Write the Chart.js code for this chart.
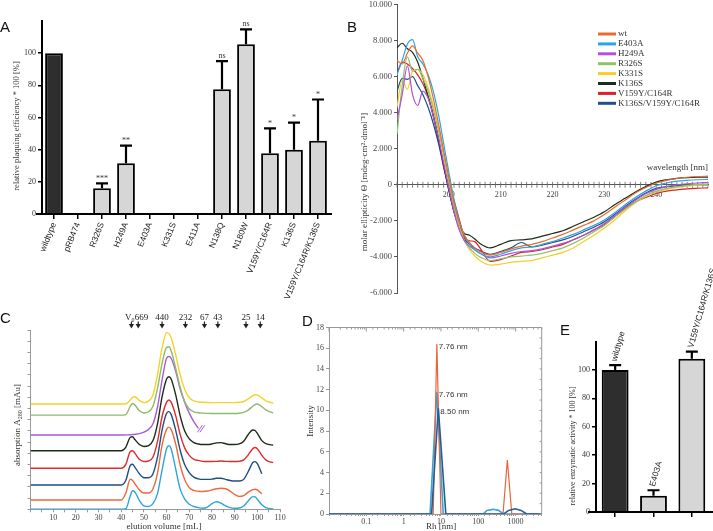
<!DOCTYPE html>
<html>
<head>
<meta charset="utf-8">
<title>Figure</title>
<script src="https://cdn.jsdelivr.net/npm/chart.js@4.4.1/dist/chart.umd.min.js"></script>
<style>
  body { margin: 0; background: #fff; }
  #figure { position: relative; width: 713px; height: 531px; overflow: hidden; background: #fff; }
  #figure canvas { position: absolute; }
  .panel-tag { position: absolute; font: 15px/15px "Liberation Sans", Arial, sans-serif; color: #111; }
</style>
</head>
<body>
<div id="figure">
  <canvas id="chart-a" width="345" height="306" style="left:0px;top:0px"></canvas>
  <canvas id="chart-b" width="358" height="300" style="left:355px;top:0px"></canvas>
  <canvas id="chart-c" width="300" height="231" style="left:0px;top:300px"></canvas>
  <canvas id="chart-d" width="265" height="221" style="left:295px;top:310px"></canvas>
  <canvas id="chart-e" width="158" height="276" style="left:555px;top:255px"></canvas>
  <div class="panel-tag" style="left:0px;top:19px">A</div>
  <div class="panel-tag" style="left:347px;top:19px">B</div>
  <div class="panel-tag" style="left:0px;top:310px">C</div>
  <div class="panel-tag" style="left:302px;top:313px">D</div>
  <div class="panel-tag" style="left:560px;top:322px">E</div>
</div>
<script>
const SERIF = '"Liberation Serif", "Times New Roman", serif';
const SANS = '"Liberation Sans", Arial, sans-serif';

// Panel A - relative plaquing efficiency
const plaqueLabels = ['wildtype', 'pRB474', 'R326S', 'H249A', 'E403A', 'K331S', 'E411A', 'N138Q', 'N180W', 'V159Y/C164R', 'K136S', 'V159Y/C164R/K136S'];
const plaqueValues = [100, 0, 16, 31.5, 0, 0, 0, 77.5, 105.5, 37.7, 40, 45.5];
const plaqueErrors = [0, 0, 3, 11, 0, 0, 0, 17.6, 9.3, 15.5, 16.8, 25.7];
const plaqueSignif = ['', '', '***', '**', '', '', '', 'ns', 'ns', '*', '*', '*'];

// Panel B - CD spectra
const cdWavelength = [190, 191, 192, 193, 194, 195, 196, 197, 198, 199, 200, 201, 202, 203, 204, 205, 206,
  208, 210, 212, 214, 216, 218, 220, 222, 224, 226, 228, 230, 232, 234, 236, 238, 240, 242, 244, 246, 248, 250];
const cdWt = [6900, 6700, 7300, 7700, 7300, 6900, 6000, 4800, 3400, 1900, 400, -1000, -2100, -2800, -3200, -3500, -3700,
  -3900, -3750, -3550, -3400, -3300, -3150, -2950, -2750, -2500, -2250, -2000, -1650, -1250, -850, -450, -150, 100, 250, 350, 420, 460, 480];
const cdE403A = [6100, 6900, 7800, 8050, 7100, 6700, 6100, 5200, 3900, 2300, 700, -800, -2000, -2800, -3300, -3600, -3800,
  -4000, -3850, -3650, -3500, -3450, -3300, -3150, -2950, -2750, -2500, -2250, -1950, -1550, -1100, -700, -350, -50, 100, 200, 250, 280, 300];
const cdH249A = [3600, 5000, 6600, 5000, 4400, 5200, 4800, 3800, 2600, 1200, -200, -1500, -2500, -3100, -3400, -3600, -3800,
  -4050, -3950, -3800, -3700, -3650, -3550, -3400, -3250, -3050, -2800, -2500, -2150, -1700, -1250, -850, -500, -250, -100, 0, 60, 100, 140];
const cdR326S = [2800, 5500, 7100, 6300, 6400, 5900, 5200, 4200, 3000, 1600, 100, -1300, -2400, -3100, -3500, -3800, -4000,
  -4200, -4100, -4000, -3950, -3900, -3800, -3650, -3500, -3250, -2950, -2600, -2250, -1800, -1350, -950, -600, -350, -200, -100, -30, 20, 50];
const cdK331S = [4300, 5800, 5300, 6300, 6400, 6100, 5400, 4400, 3200, 1800, 300, -1100, -2300, -3100, -3600, -3950, -4200,
  -4450, -4400, -4300, -4250, -4200, -4050, -3900, -3750, -3500, -3150, -2800, -2400, -1950, -1450, -1000, -650, -400, -250, -150, -70, -20, 0];
const cdK136S = [7600, 7850, 7550, 7350, 6800, 5900, 4900, 3800, 2500, 1100, -300, -1500, -2300, -2700, -2800, -3000, -3250,
  -3500, -3300, -3100, -3050, -3000, -2850, -2700, -2550, -2300, -2050, -1800, -1500, -1100, -750, -400, -100, 150, 280, 360, 400, 420, 430];
const cdV159Y = [6200, 6800, 6700, 6450, 6100, 5600, 4900, 3900, 2600, 1000, -100, -900, -1900, -2900, -3100, -3150, -3500,
  -4250, -4150, -3950, -3750, -3700, -3600, -3450, -3300, -3050, -2800, -2500, -2200, -1750, -1300, -950, -700, -480, -350, -280, -220, -190, -170];
const cdTriple = [5200, 5900, 5850, 6000, 5500, 5000, 4300, 3400, 2300, 1000, -300, -1500, -2400, -3000, -3300, -3500, -3650,
  -3850, -3700, -3500, -3200, -3450, -3350, -3200, -3050, -2850, -2600, -2350, -2050, -1650, -1200, -800, -450, -200, -100, -50, -20, 0, 0];
const cdNames = ['wt', 'E403A', 'H249A', 'R326S', 'K331S', 'K136S', 'V159Y/C164R', 'K136S/V159Y/C164R'];
const cdValues = [cdWt, cdE403A, cdH249A, cdR326S, cdK331S, cdK136S, cdV159Y, cdTriple];
const cdColors = ['#ec6a2c', '#2aa7e1', '#b450e0', '#8dc46a', '#f2d02a', '#1c2d17', '#dc2128', '#1c4f8c'];

// Panel C - size exclusion chromatograms (signal above each trace's baseline)
const elutionVolume = [0, 40, 42, 44, 45, 46, 48, 50, 52, 54, 56, 58, 60, 61, 62, 64, 66, 68, 70, 72,
  74, 76, 78, 80, 82, 84, 86, 88, 90, 92, 94, 96, 98, 99, 100, 102, 104, 107];
const secK331S = [0, 0, 0.02, 0.35, 0.6, 0.65, 0.3, 0.12, 0.25, 0.8, 2.6, 5.0, 6.37, 6.3, 5.9, 4.4, 2.6, 1.3, 0.55, 0.28,
  0.18, 0.15, 0.13, 0.12, 0.12, 0.12, 0.12, 0.12, 0.12, 0.15, 0.22, 0.45, 0.75, 0.82, 0.8, 0.55, 0.25, 0.08];
const secR326S = [0, 0, 0.05, 0.8, 1.04, 0.9, 0.4, 0.2, 0.3, 0.8, 2.4, 4.6, 6.05, 6.1, 5.75, 4.2, 2.5, 1.2, 0.55, 0.3,
  0.22, 0.18, 0.16, 0.15, 0.15, 0.15, 0.15, 0.15, 0.15, 0.17, 0.25, 0.45, 0.8, 0.95, 1.0, 0.75, 0.45, 0.2];
const secH249A = [0, 0, 0.01, 0.02, 0.04, 0.06, 0.12, 0.25, 0.5, 1.0, 2.5, 4.9, 6.85, 7.0, 6.85, 5.7, 4.1, 2.9, 1.95, 1.2,
  0.6, null, null, null, null, null, null, null, null, null, null, null, null, null, null, null, null, null];
const secK136S = [0, 0, 0.3, 1.2, 1.25, 1.0, 0.55, 0.38, 0.45, 0.9, 2.4, 4.8, 6.4, 6.6, 6.4, 5.0, 3.1, 1.75, 1.05, 0.72,
  0.6, 0.55, 0.55, 0.6, 0.7, 0.72, 0.62, 0.55, 0.55, 0.6, 0.85, 1.45, 1.85, 1.8, 1.55, 0.9, 0.6, 0.5];
const secV159Y = [0, 0, 0.35, 1.5, 1.57, 1.35, 0.8, 0.6, 0.65, 1.0, 2.4, 4.6, 5.9, 6.1, 5.9, 4.7, 3.0, 1.8, 1.15, 0.8,
  0.7, 0.62, 0.6, 0.6, 0.62, 0.65, 0.62, 0.6, 0.6, 0.62, 0.75, 1.2, 1.75, 1.85, 1.75, 1.15, 0.7, 0.5];
const secTriple = [0, 0, 0.4, 1.75, 1.85, 1.6, 1.0, 0.65, 0.65, 1.0, 2.5, 4.9, 6.4, 6.55, 6.3, 4.9, 3.1, 1.8, 1.1, 0.7,
  0.55, 0.5, 0.5, 0.52, 0.6, 0.6, 0.5, 0.4, 0.35, 0.35, 0.5, 1.2, 2.0, 2.08, 1.9, 1.0, null, null];
const secWt = [0, 0, 0.6, 1.85, 1.75, 1.45, 0.9, 0.62, 0.62, 1.0, 2.4, 4.9, 6.3, 6.5, 6.3, 5.0, 3.1, 1.8, 1.1, 0.85,
  0.78, 0.76, 0.8, 0.9, 1.0, 1.05, 1.0, 0.8, 0.5, 0.32, 0.4, 0.7, 0.93, 0.96, 0.9, 0.54, null, null];
const secE403A = [0, 0, 0.05, 1.2, 1.66, 1.55, 0.8, 0.3, 0.25, 0.5, 1.4, 3.5, 5.4, 5.68, 5.4, 3.6, 1.8, 0.9, 0.45, 0.25,
  0.15, 0.1, 0.2, 0.5, 0.68, 0.55, 0.3, 0.15, 0.1, 0.12, 0.3, 0.75, 1.13, 1.1, 0.9, 0.4, 0.12, 0.03];
const secTraces = [secK331S, secR326S, secH249A, secK136S, secV159Y, secTriple, secWt, secE403A];
const secOffsets = [9.4, 8.4, 6.63, 5.23, 3.66, 2.17, 0.83, 0];
const secColors = ['#f4d22b', '#8fba6e', '#a65bd6', '#1e2b1a', '#e02a2e', '#1e4f7e', '#ec6a3c', '#2ca5de'];
const markerLabels = ['V0', '669', '440', '232', '67', '43', '25', '14'];
const markerVolumes = [44.5, 47.5, 58, 68.3, 76.7, 82.6, 95, 101.3];

// Panel D - DLS size distribution
const dlsWtRh = [0.01, 6.2, 7.76, 10, 460, 600, 790, 5000];
const dlsWtIntensity = [0, 0, 16.4, 0, 0, 5.2, 0, 0];
const dlsE403ARh = [0.01, 5.1, 7.76, 11.5, 135, 170, 250, 350, 470, 5000];
const dlsE403AIntensity = [0, 0, 11.8, 0, 0, 0.35, 0.45, 0.35, 0, 0];
const dlsTripleRh = [0.01, 5.6, 8.5, 13.5, 480, 650, 970, 1400, 1980, 5000];
const dlsTripleIntensity = [0, 0, 10.2, 0, 0, 0.35, 0.5, 0.35, 0, 0];
const dlsColors = ['#e8653b', '#3ba3d8', '#1f5f96'];
const dlsDrawOrder = [2, 3, 1];

// Panel E - relative enzymatic activity
const enzLabels = ['wildtype', 'E403A', 'V159Y/C164R/K136S'];
const enzValues = [100, 11.4, 108];
const enzErrors = [3.5, 3.9, 5];

function fixWidth(w) {
  return scale => { scale.width = w; scale.paddingTop = 0; scale.paddingBottom = 0; };
}
function fixHeight(h) {
  return scale => { scale.height = h; scale.paddingLeft = 0; scale.paddingRight = 0; };
}
function rotatedText(ctx, text, x, y, font, color) {
  ctx.save();
  ctx.translate(x, y);
  ctx.rotate(-Math.PI / 2);
  ctx.font = font;
  ctx.fillStyle = color;
  ctx.textAlign = 'center';
  ctx.textBaseline = 'middle';
  ctx.fillText(text, 0, 0);
  ctx.restore();
}
function isDecade(v) {
  const l = Math.log10(v);
  return Math.abs(l - Math.round(l)) < 1e-6;
}
function dotThousands(v) {
  const s = String(Math.abs(v)).replace(/\B(?=(\d{3})+(?!\d))/g, '.');
  return (v < 0 ? '-' : '') + s;
}

// error bars (+ optional significance marks) for the bar panels
function errorBars(values, errors, marks) {
  return {
    id: 'errorBars',
    afterDatasetsDraw(chart) {
      const ctx = chart.ctx;
      const y = chart.scales.y;
      ctx.save();
      ctx.strokeStyle = '#000';
      ctx.lineWidth = 2.2;
      chart.getDatasetMeta(0).data.forEach((bar, i) => {
        if (!errors[i]) return;
        const yBar = y.getPixelForValue(values[i]);
        const yTop = y.getPixelForValue(values[i] + errors[i]);
        ctx.beginPath();
        ctx.moveTo(bar.x, yBar);
        ctx.lineTo(bar.x, yTop);
        ctx.moveTo(bar.x - 6, yTop);
        ctx.lineTo(bar.x + 6, yTop);
        ctx.stroke();
        if (marks && marks[i]) {
          ctx.fillStyle = '#333';
          ctx.font = '8px ' + SERIF;
          ctx.textAlign = 'center';
          ctx.textBaseline = 'bottom';
          ctx.fillText(marks[i], bar.x, yTop - 1);
        }
      });
      ctx.restore();
    }
  };
}
function baseLine(extendLeft) {
  return {
    id: 'baseLine',
    afterDatasetsDraw(chart) {
      const { ctx, chartArea: a } = chart;
      ctx.save();
      ctx.strokeStyle = '#000';
      ctx.lineWidth = 2;
      ctx.beginPath();
      ctx.moveTo(a.left - extendLeft, a.bottom);
      ctx.lineTo(a.right + 2, a.bottom);
      ctx.stroke();
      ctx.restore();
    }
  };
}

const noChrome = { legend: { display: false }, tooltip: { enabled: false } };

// ---------- A ----------
new Chart(document.getElementById('chart-a'), {
  type: 'bar',
  data: {
    labels: plaqueLabels,
    datasets: [{
      data: plaqueValues,
      backgroundColor: plaqueLabels.map((_, i) => i === 0 ? '#2e2e2e' : '#d6d6d6'),
      borderColor: '#000',
      borderWidth: 2,
      barPercentage: 0.74,
      categoryPercentage: 1
    }]
  },
  options: {
    responsive: false,
    animation: false,
    layout: { autoPadding: false, padding: { left: 0, top: 21, right: 15, bottom: 0 } },
    plugins: noChrome,
    scales: {
      x: {
        grid: { drawOnChartArea: false, offset: false, tickLength: 5, color: '#000', lineWidth: 1.5 },
        border: { display: false },
        ticks: { autoSkip: false, minRotation: 68, maxRotation: 68, padding: 2, color: '#222', font: { family: SANS, size: 8.5 } },
        afterFit: fixHeight(92)
      },
      y: {
        min: 0,
        max: 120,
        afterBuildTicks: s => { s.ticks = s.ticks.filter(t => t.value <= 100); },
        ticks: { stepSize: 20, padding: 2, color: '#333', font: { family: SERIF, size: 8 } },
        grid: { drawOnChartArea: false, tickLength: 4, color: '#000', lineWidth: 1.5 },
        border: { color: '#000', width: 2 },
        afterFit: fixWidth(42)
      }
    }
  },
  plugins: [
    errorBars(plaqueValues, plaqueErrors, plaqueSignif),
    baseLine(6),
    { id: 'titleA', afterDraw(c) { rotatedText(c.ctx, 'relative plaquing efficiency * 100 [%]', 17, 126, '8.5px ' + SERIF, '#333'); } }
  ]
});

// ---------- B ----------
const cdDecor = {
  id: 'cdDecor',
  beforeDatasetsDraw(chart) {
    const { ctx, scales: { x, y } } = chart;
    const y0 = y.getPixelForValue(0);
    ctx.save();
    ctx.strokeStyle = '#666';
    ctx.lineWidth = 0.8;
    ctx.beginPath();
    x.ticks.forEach(t => {
      const px = x.getPixelForValue(t.value);
      ctx.moveTo(px, y0 - 3);
      ctx.lineTo(px, y0 + 3);
    });
    ctx.stroke();
    ctx.restore();
  },
  afterDraw(chart) {
    const ctx = chart.ctx;
    ctx.save();
    ctx.font = '9px ' + SERIF;
    ctx.fillStyle = '#333';
    ctx.textBaseline = 'middle';
    cdNames.forEach((name, i) => {
      const yy = 34 + i * 9.9;
      ctx.strokeStyle = cdColors[i];
      ctx.lineWidth = 3;
      ctx.beginPath();
      ctx.moveTo(243, yy);
      ctx.lineTo(261, yy);
      ctx.stroke();
      ctx.fillText(name, 263, yy);
    });
    ctx.textAlign = 'right';
    ctx.textBaseline = 'alphabetic';
    ctx.fillText('wavelength [nm]', 353, 170);
    ctx.restore();
    rotatedText(ctx, 'molar ellipticity \u0398 [mdeg\u00b7cm\u00b2\u00b7dmol\u207b\u00b9]', 10, 182, '9px ' + SERIF, '#333');
  }
};

new Chart(document.getElementById('chart-b'), {
  type: 'line',
  data: {
    datasets: cdValues.map((vals, i) => ({
      label: cdNames[i],
      data: cdWavelength.map((w, j) => ({ x: w, y: vals[j] })),
      borderColor: cdColors[i],
      borderWidth: 1.2,
      pointRadius: 0,
      cubicInterpolationMode: 'monotone'
    }))
  },
  options: {
    responsive: false,
    animation: false,
    layout: { autoPadding: false, padding: { left: 0, top: 4.5, right: 4, bottom: 7 } },
    plugins: noChrome,
    scales: {
      x: {
        type: 'linear',
        min: 190,
        max: 250,
        position: { y: 0 },
        grid: { display: false, drawTicks: false },
        border: { color: '#555', width: 1 },
        ticks: {
          stepSize: 1, autoSkip: false, maxRotation: 0, padding: 5, color: '#444',
          font: { family: SERIF, size: 8 },
          callback: v => (v % 10 === 0 && v > 190 && v < 250) ? String(v) : ''
        }
      },
      y: {
        min: -6000,
        max: 10000,
        ticks: { stepSize: 2000, padding: 2, color: '#444', font: { family: SERIF, size: 8.5 }, callback: dotThousands },
        grid: { drawOnChartArea: false, tickLength: 3, color: '#555' },
        border: { color: '#555', width: 1 },
        afterFit: fixWidth(42)
      }
    }
  },
  plugins: [cdDecor]
});

// ---------- C ----------
const secDecor = {
  id: 'secDecor',
  afterDraw(chart) {
    const { ctx, scales: { x, y } } = chart;
    ctx.save();
    ctx.fillStyle = '#222';
    markerVolumes.forEach((v, i) => {
      const px = x.getPixelForValue(v);
      ctx.beginPath();
      ctx.moveTo(px - 2.6, 24);
      ctx.lineTo(px + 2.6, 24);
      ctx.lineTo(px, 28.5);
      ctx.closePath();
      ctx.fill();
      ctx.fillRect(px - 0.6, 21.5, 1.2, 3);
      ctx.font = '9px ' + SERIF;
      ctx.textBaseline = 'alphabetic';
      if (markerLabels[i] === 'V0') {
        ctx.textAlign = 'right';
        ctx.fillText('V', px, 19.5);
        ctx.font = '6px ' + SERIF;
        ctx.textAlign = 'left';
        ctx.fillText('0', px, 21.5);
      } else if (i === 1) {
        ctx.textAlign = 'left';
        ctx.fillText(markerLabels[i], px - 3.5, 19.5);
      } else {
        ctx.textAlign = 'center';
        ctx.fillText(markerLabels[i], px, 19.5);
      }
    });

    // break mark at the end of the truncated H249A trace
    const k = secH249A.findLastIndex(v => v !== null);
    const bx = x.getPixelForValue(elutionVolume[k]);
    const by = y.getPixelForValue(secH249A[k] + secOffsets[2]);
    ctx.strokeStyle = secColors[2];
    ctx.lineWidth = 1;
    ctx.beginPath();
    [0, 2.5].forEach(d => {
      ctx.moveTo(bx + d - 1, by + 4);
      ctx.lineTo(bx + d + 4, by - 3);
    });
    ctx.stroke();

    // axis titles
    ctx.fillStyle = '#333';
    ctx.font = '9px ' + SERIF;
    ctx.textAlign = 'center';
    ctx.textBaseline = 'alphabetic';
    ctx.fillText('elution volume [mL]', 164, 228.5);

    ctx.translate(16.7, 125);
    ctx.rotate(-Math.PI / 2);
    const t1 = 'absorption A', t2 = '280', t3 = ' [mAu]';
    ctx.font = '9px ' + SERIF;
    const w1 = ctx.measureText(t1).width, w3 = ctx.measureText(t3).width;
    ctx.font = '6px ' + SERIF;
    const w2 = ctx.measureText(t2).width;
    let sx = -(w1 + w2 + w3) / 2;
    ctx.textAlign = 'left';
    ctx.font = '9px ' + SERIF;
    ctx.fillText(t1, sx, 3);
    sx += w1;
    ctx.font = '6px ' + SERIF;
    ctx.fillText(t2, sx, 5.5);
    sx += w2;
    ctx.font = '9px ' + SERIF;
    ctx.fillText(t3, sx, 3);
    ctx.restore();
  }
};

new Chart(document.getElementById('chart-c'), {
  type: 'line',
  data: {
    datasets: secTraces.map((vals, i) => ({
      data: elutionVolume.map((v, j) => ({ x: v, y: vals[j] === null ? null : vals[j] + secOffsets[i] })),
      borderColor: secColors[i],
      borderWidth: 1.4,
      pointRadius: 0,
      cubicInterpolationMode: 'monotone',
      spanGaps: false
    }))
  },
  options: {
    responsive: false,
    animation: false,
    layout: { autoPadding: false, padding: { left: 0, top: 30, right: 20, bottom: 0 } },
    plugins: noChrome,
    scales: {
      x: {
        type: 'linear',
        min: 0,
        max: 110,
        ticks: {
          stepSize: 5, autoSkip: false, maxRotation: 0, padding: 1, color: '#444',
          font: { family: SERIF, size: 8 },
          callback: v => (v > 0 && v % 10 === 0) ? String(v) : ''
        },
        grid: { drawOnChartArea: false, tickLength: 3, color: '#999' },
        border: { color: '#999' },
        afterFit: fixHeight(21.7)
      },
      y: {
        min: 0,
        max: 16,
        ticks: { stepSize: 1, display: false },
        grid: { drawOnChartArea: false, tickLength: 3, color: '#999' },
        border: { color: '#999' },
        afterFit: fixWidth(30.5)
      }
    }
  },
  plugins: [secDecor]
});

// ---------- D ----------
const dlsSeries = [
  [dlsWtRh, dlsWtIntensity],
  [dlsE403ARh, dlsE403AIntensity],
  [dlsTripleRh, dlsTripleIntensity]
];
const dlsDecor = {
  id: 'dlsDecor',
  afterDraw(chart) {
    const { ctx, chartArea: a, scales: { x, y } } = chart;
    ctx.save();
    ctx.strokeStyle = '#999';
    ctx.lineWidth = 1;
    ctx.beginPath();
    ctx.moveTo(a.left, a.top);
    ctx.lineTo(a.right, a.top);
    ctx.lineTo(a.right, a.bottom);
    x.ticks.forEach(t => {
      const px = x.getPixelForValue(t.value);
      ctx.moveTo(px, a.top);
      ctx.lineTo(px, a.top + (isDecade(t.value) ? 4 : 2));
    });
    for (let v = 0; v <= 18; v++) {
      const py = y.getPixelForValue(v);
      ctx.moveTo(a.right, py);
      ctx.lineTo(a.right - 2, py);
    }
    ctx.stroke();

    ctx.fillStyle = '#333';
    ctx.font = '8px ' + SANS;
    ctx.textAlign = 'left';
    ctx.textBaseline = 'middle';
    chart.data.datasets.forEach(ds => {
      const top = ds.data.reduce((m, p) => (p.y > m.y ? p : m));
      ctx.fillText(top.x.toFixed(2) + ' nm', x.getPixelForValue(top.x) + 2, y.getPixelForValue(top.y) + 3);
    });

    ctx.font = '9px ' + SERIF;
    ctx.textAlign = 'center';
    ctx.textBaseline = 'alphabetic';
    ctx.fillText('Rh [nm]', 146, 219);
    ctx.restore();
    rotatedText(ctx, 'Intensity', 16, 111, '9px ' + SERIF, '#333');
  }
};

new Chart(document.getElementById('chart-d'), {
  type: 'line',
  data: {
    datasets: dlsSeries.map(([rh, inten], i) => ({
      data: rh.map((r, j) => ({ x: r, y: inten[j] })),
      borderColor: dlsColors[i],
      borderWidth: i === 0 ? 1.2 : 1.6,
      pointRadius: 0,
      tension: 0,
      order: dlsDrawOrder[i]
    }))
  },
  options: {
    responsive: false,
    animation: false,
    layout: { autoPadding: false, padding: { left: 0, top: 17.5, right: 18.3, bottom: 0 } },
    plugins: noChrome,
    scales: {
      x: {
        type: 'logarithmic',
        min: 0.01,
        max: 5000,
        ticks: {
          autoSkip: false, maxRotation: 0, padding: 1, color: '#444',
          font: { family: SERIF, size: 8 },
          callback: v => (isDecade(v) && v >= 0.1 && v <= 1000) ? String(Number(v.toPrecision(2))) : ''
        },
        grid: { drawOnChartArea: false, tickLength: 2, color: '#999' },
        border: { color: '#999' },
        afterFit: fixHeight(17)
      },
      y: {
        min: 0,
        max: 18,
        ticks: { stepSize: 2, padding: 2, color: '#444', font: { family: SERIF, size: 8 } },
        grid: { drawOnChartArea: false, tickLength: 3, color: '#999' },
        border: { color: '#999' },
        afterFit: fixWidth(34)
      }
    }
  },
  plugins: [dlsDecor]
});

// ---------- E ----------
new Chart(document.getElementById('chart-e'), {
  type: 'bar',
  data: {
    labels: enzLabels,
    datasets: [{
      data: enzValues,
      backgroundColor: enzLabels.map((_, i) => i === 0 ? '#2e2e2e' : '#d6d6d6'),
      borderColor: '#000',
      borderWidth: 2,
      barPercentage: 0.7,
      categoryPercentage: 1
    }]
  },
  options: {
    responsive: false,
    animation: false,
    layout: { autoPadding: false, padding: { left: 0, top: 86.6, right: 2, bottom: 0 } },
    plugins: noChrome,
    scales: {
      x: {
        grid: { drawOnChartArea: false, offset: false, tickLength: 5, color: '#000', lineWidth: 1.5 },
        border: { display: false },
        ticks: { display: false },
        afterFit: fixHeight(19)
      },
      y: {
        min: 0,
        max: 120,
        afterBuildTicks: s => { s.ticks = s.ticks.filter(t => t.value <= 100); },
        ticks: { stepSize: 20, padding: 2, color: '#333', font: { family: SERIF, size: 8 } },
        grid: { drawOnChartArea: false, tickLength: 4, color: '#000', lineWidth: 1.5 },
        border: { color: '#000', width: 2 },
        afterFit: fixWidth(41)
      }
    }
  },
  plugins: [
    errorBars(enzValues, enzErrors, null),
    baseLine(8),
    {
      id: 'enzLabels',
      afterDraw(chart) {
        const ctx = chart.ctx;
        const y = chart.scales.y;
        chart.getDatasetMeta(0).data.forEach((bar, i) => {
          ctx.save();
          ctx.translate(bar.x - 1, y.getPixelForValue(enzValues[i] + enzErrors[i]) - 4);
          ctx.rotate(-74 * Math.PI / 180);
          ctx.font = '8.5px ' + SANS;
          ctx.fillStyle = '#222';
          ctx.textBaseline = 'middle';
          ctx.fillText(enzLabels[i], 0, 0);
          ctx.restore();
        });
        rotatedText(ctx, 'relative enzymatic activity * 100 [%]', 18, 191, '8px ' + SERIF, '#333');
      }
    }
  ]
});
</script>
</body>
</html>
